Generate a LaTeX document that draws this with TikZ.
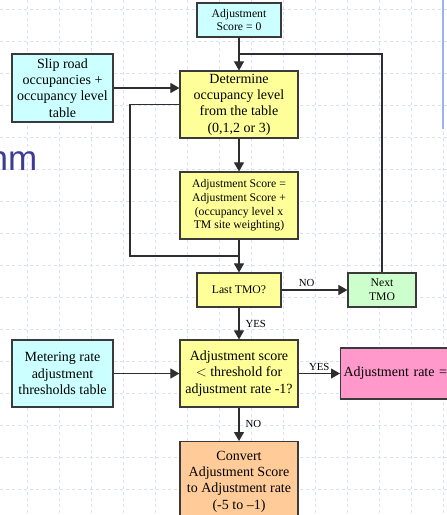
\documentclass[tikz,border=0pt]{standalone}
\usepackage{fontspec}
\setmainfont{Liberation Serif}
\newfontfamily\slidefont{Liberation Sans}
\usetikzlibrary{arrows.meta}
\definecolor{boxcyan}{HTML}{CCFFFF}
\definecolor{boxyellow}{HTML}{FFFF99}
\definecolor{boxgreen}{HTML}{CCFFCC}
\definecolor{boxpink}{HTML}{FF99CC}
\definecolor{boxorange}{HTML}{FFCC99}
\definecolor{boxline}{HTML}{3A3A3A}
\definecolor{gridblue}{HTML}{D9DEFF}
\definecolor{titleblue}{HTML}{3C3C96}
\definecolor{barblue}{HTML}{A3B0F2}
\begin{document}
\begin{tikzpicture}[x=1pt, y=-1pt,
    box/.style={draw=boxline, line width=1.2pt, align=center, inner sep=2pt,
                font=\fontsize{14}{16.3}\selectfont},
    smallbox/.style={box, font=\fontsize{11.7}{13.7}\selectfont},
    flow/.style={draw=boxline!80!black, line width=1.1pt},
    arr/.style={flow, -{Triangle[length=9pt, width=10pt]}},
    lbl/.style={font=\fontsize{10.8}{12}\selectfont, inner sep=3pt}]
    \clip (0,0) rectangle (447,515);
    \fill[white] (0,0) rectangle (447,515);

    % slide background
    \foreach \gx in {27,59,...,443}
    {
        \draw[gridblue, dashed, line width=0.8pt] (\gx,0) -- (\gx,515);
    }
    \foreach \gy in {9,41,...,521}
    {
        \draw[gridblue, dashed, line width=0.8pt] (0,\gy) -- (447,\gy);
    }
    \draw[barblue, line width=1.5pt] (443,0) -- (443,129);
    \node[anchor=base east, inner sep=0pt, text=titleblue,
          font=\slidefont\fontsize{35}{35}\selectfont] (title) at (37.5,170) {nm};

    % boxes
    \node[smallbox, fill=boxcyan, minimum width=84, minimum height=34] (start) at (239,20) {Adjustment\\Score = 0};
    \node[box, fill=boxcyan, minimum width=101, minimum height=68] (slip) at (62.5,88) {Slip road\\occupancies +\\occupancy level\\table};
    \node[box, fill=boxyellow, minimum width=118, minimum height=67] (determine) at (239,104.5) {Determine\\occupancy level\\from the table\\(0,1,2 or 3)};
    \node[smallbox, fill=boxyellow, minimum width=118, minimum height=67] (addscore) at (239,205.5) {Adjustment Score =\\Adjustment Score +\\(occupancy level x\\TM site weighting)};
    \node[smallbox, fill=boxyellow, minimum width=84, minimum height=34] (lasttmo) at (239,290) {Last TMO?};
    \node[smallbox, fill=boxgreen, minimum width=68, minimum height=34] (nexttmo) at (382,290) {Next\\TMO};
    \node[box, fill=boxcyan, minimum width=101, minimum height=67] (metering) at (62.5,373.5) {Metering rate\\adjustment\\thresholds table};
    \node[box, fill=boxyellow, minimum width=118, minimum height=67] (threshold) at (239,373.5) {Adjustment score\\$<$ threshold for\\adjustment rate -1?};
    \node[box, fill=boxpink, anchor=west, minimum height=51, text width=110, align=left, inner xsep=3pt] (rate) at (340,373.5) {Adjustment rate =};
    \node[box, fill=boxorange, anchor=north, minimum width=118, minimum height=80] (convert) at (239,441) {Convert\\Adjustment Score\\to Adjustment rate\\(-5 to –1)};

    % connectors
    \coordinate (loopjoin) at (239,256);
    \coordinate (loopleft) at (130,256);
    \coordinate (looptop) at (130,104.5);
    \coordinate (returnjoin) at (239,54);

    \draw[arr] (start) -- (determine);
    \draw[arr] (slip.east) -- (slip.east -| determine.west);
    \draw[arr] (determine) -- (addscore);
    \draw[arr] (addscore) -- (lasttmo);
    \draw[flow] (loopjoin) -- (loopleft) -- (looptop) -- (determine.west);
    \draw[flow] (nexttmo.north) -- (nexttmo.north |- returnjoin) -- (returnjoin);
    \draw[arr] (lasttmo) -- node[lbl, above, pos=0.38]{NO} (nexttmo);
    \draw[arr] (lasttmo) -- node[lbl, right, inner sep=6pt]{YES} (threshold);
    \draw[arr] (metering) -- (threshold);
    \draw[arr] (threshold.east) -- node[lbl, above, inner sep=2pt]{YES} (rate.west);
    \draw[arr] (threshold) -- node[lbl, right, inner sep=6pt]{NO} (convert);
\end{tikzpicture}
\end{document}
